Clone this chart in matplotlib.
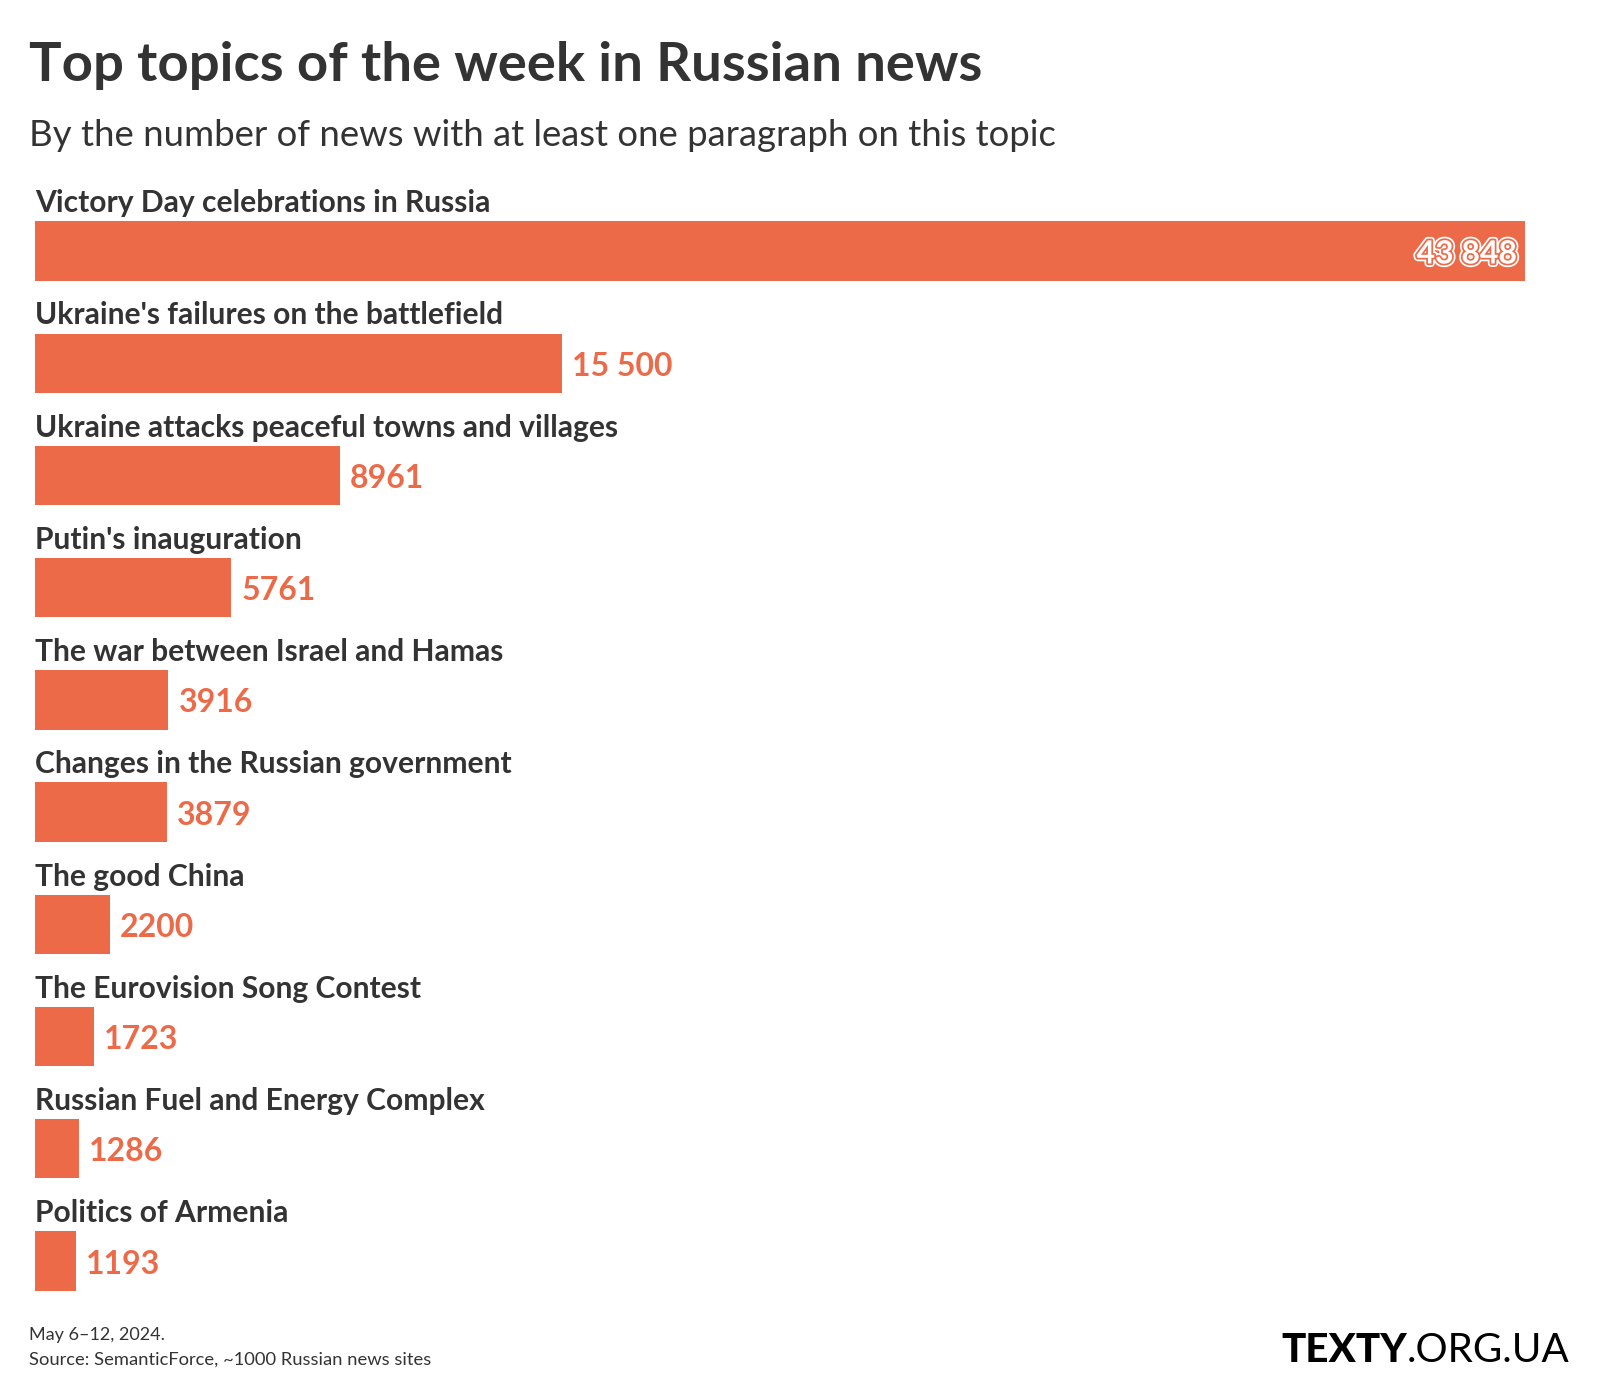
import matplotlib
matplotlib.use("Agg")
import matplotlib.pyplot as plt
import matplotlib.patheffects as pe

plt.rcParams['font.family'] = ['Lato', 'DejaVu Sans']

topics = [
    "Victory Day celebrations in Russia",
    "Ukraine's failures on the battlefield",
    "Ukraine attacks peaceful towns and villages",
    "Putin's inauguration",
    "The war between Israel and Hamas",
    "Changes in the Russian government",
    "The good China",
    "The Eurovision Song Contest",
    "Russian Fuel and Energy Complex",
    "Politics of Armenia",
]
counts = [43848, 15500, 8961, 5761, 3916, 3879, 2200, 1723, 1286, 1193]

BAR = '#ed6a48'
DARK = '#333333'

def fmt(v):
    # "43 848" style grouping, 4-digit numbers stay together
    return f"{v:,}".replace(",", " ") if v >= 10000 else str(v)

fig = plt.figure(figsize=(16, 14), dpi=100)
ax = fig.add_axes([0.0221, 0.0592, 0.9313, 0.8417])

ys = list(range(len(topics)))
ax.barh(ys, counts, height=0.528, color=BAR)
ax.set_xlim(0, max(counts))
ax.set_ylim(9.5, -1.0)
ax.axis('off')

for y, t, v in zip(ys, topics, counts):
    ax.text(0, y - 0.345, t, ha='left', va='baseline', fontsize=21.6,
            fontweight='bold', color=DARK)
    if v == max(counts):
        ax.annotate(fmt(v), (v, y), xytext=(-8, -3), textcoords='offset pixels',
                    ha='right', va='center', fontsize=23, fontweight='bold',
                    color='white',
                    path_effects=[pe.Stroke(linewidth=5, foreground='white'),
                                  pe.Stroke(linewidth=2.5, foreground=BAR),
                                  pe.Normal()])
    else:
        ax.annotate(fmt(v), (v, y), xytext=(10, -3), textcoords='offset pixels',
                    ha='left', va='center', fontsize=23, fontweight='bold',
                    color=BAR)

fig.text(0.018, 1 - 81 / 1400, "Top topics of the week in Russian news",
         fontsize=39.2, fontweight='bold', color=DARK, va='baseline')
fig.text(0.018, 1 - 146 / 1400,
         "By the number of news with at least one paragraph on this topic",
         fontsize=26.3, fontweight='normal', color=DARK, va='baseline')

fig.text(0.018, 1 - 1340 / 1400, "May 6\u201312, 2024.", fontsize=13,
         color=DARK, va='baseline')
fig.text(0.018, 1 - 1365 / 1400, "Source: SemanticForce, ~1000 Russian news sites",
         fontsize=13.2, color=DARK, va='baseline')

logo = fig.text(0.981, 1 - 1362 / 1400, ".ORG.UA", fontsize=29,
                fontweight='normal', color='black', ha='right', va='baseline')
fig.canvas.draw()
bb = logo.get_window_extent()
fig.text(bb.x0 / 1600, 1 - 1362 / 1400, "TEXTY", fontsize=29,
         fontweight='black', color='black', ha='right', va='baseline')

fig.savefig("out.png", dpi=100, facecolor='white')
